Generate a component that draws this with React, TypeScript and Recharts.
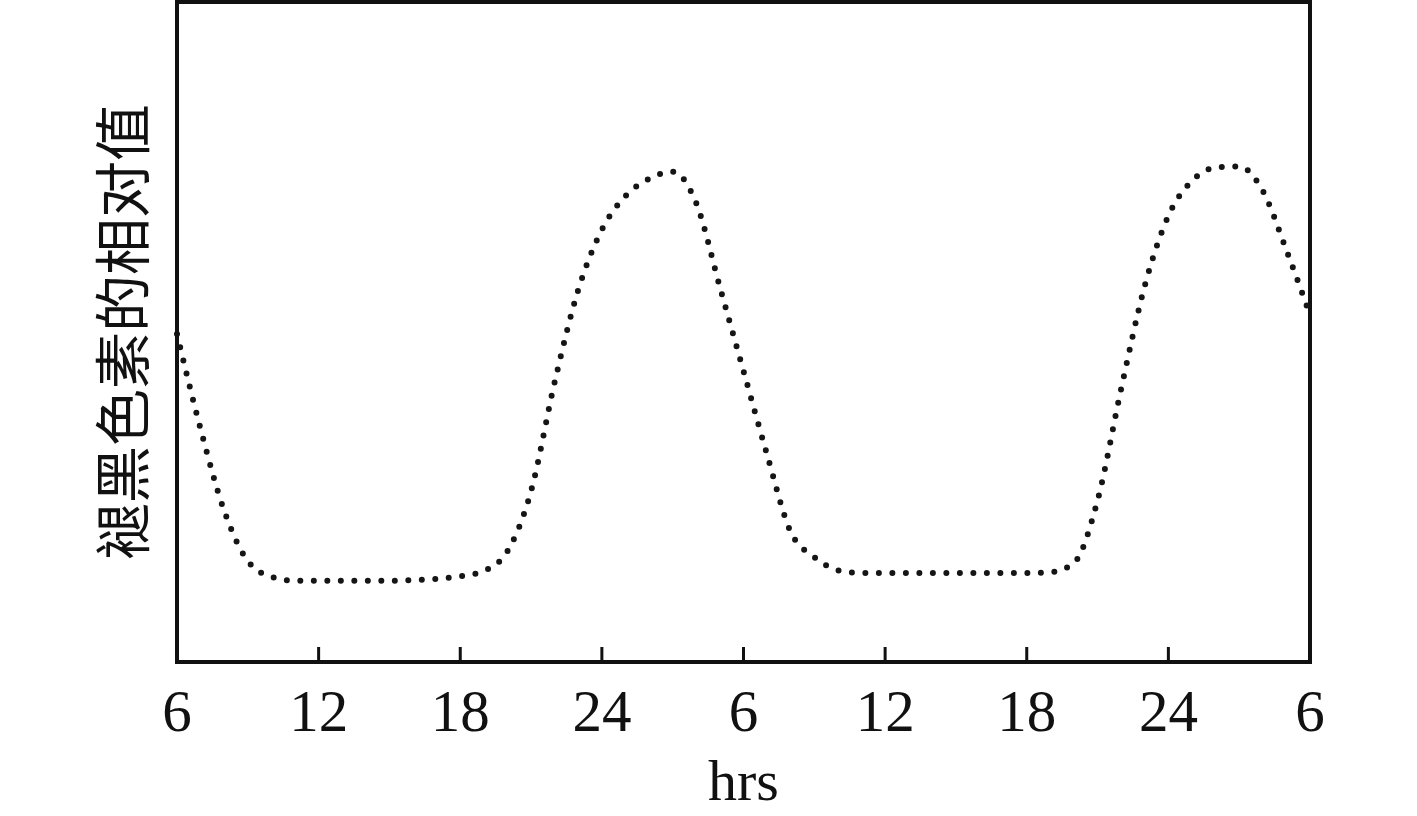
import { LineChart, Line, XAxis, YAxis, ReferenceArea } from 'recharts';

// hours since 06:00 on day one, one sample per hour
const hours = [
  0, 1, 2, 3, 4, 5, 6, 7, 8, 9, 10, 11, 12, 13, 14, 15, 16, 17, 18, 19, 20, 21, 22, 23, 24,
  25, 26, 27, 28, 29, 30, 31, 32, 33, 34, 35, 36, 37, 38, 39, 40, 41, 42, 43, 44, 45, 46, 47, 48,
];

// relative melatonin level (0-100 of the plot height)
const melatonin = [
  49.7, 35.3, 22.9, 15.3, 12.9, 12.3, 12.3, 12.3, 12.3, 12.3, 12.4, 12.6, 13.0, 13.8, 16.8, 25.9,
  42.4, 56.4, 65.5, 70.6, 73.2, 74.3, 69.5, 56.8, 44.1, 31.4, 19.7, 15.9, 13.9, 13.5, 13.5, 13.5,
  13.5, 13.5, 13.5, 13.5, 13.5, 13.6, 15.0, 24.5, 41.4, 57.0, 67.6, 72.9, 74.9, 75.1, 71.4, 62.4,
  52.6,
];

const tickHours = [0, 6, 12, 18, 24, 30, 36, 42, 48];
const tickLabels = ['6', '12', '18', '24', '6', '12', '18', '24', '6'];

const data = hours.map((h, i) => ({ h, v: melatonin[i] }));

const FONT = '"Liberation Serif", "Times New Roman", serif';

const HourTick = ({ x, y, payload }: any) => {
  const idx = tickHours.indexOf(payload.value);
  return (
    <g>
      <line x1={x} y1={y} x2={x} y2={y - 15} stroke="#111" strokeWidth={3} />
      <text x={x} y={y + 69} textAnchor="middle" fontFamily={FONT} fontSize={59} fill="#111">
        {tickLabels[idx]}
      </text>
    </g>
  );
};

const App = () => {
  return (
    <div style={{ position: 'absolute', left: 0, top: 0, width: 1417, height: 816, background: '#fff' }}>
      <LineChart width={1417} height={816} data={data} margin={{ top: 2, right: 107, left: 176, bottom: 94 }}>
        <XAxis
          dataKey="h"
          type="number"
          domain={[0, 48]}
          ticks={tickHours}
          interval={0}
          height={60}
          tickSize={0}
          tickMargin={0}
          tickLine={false}
          axisLine={{ stroke: '#111', strokeWidth: 4 }}
          tick={<HourTick />}
          label={{
            value: 'hrs',
            position: 'insideBottom',
            offset: -78,
            fontFamily: FONT,
            fontSize: 58,
            fill: '#111',
          }}
        />
        <YAxis
          domain={[0, 100]}
          width={1}
          tick={false}
          tickLine={false}
          axisLine={{ stroke: '#111', strokeWidth: 4 }}
          label={{
            value: '褪黑色素的相对值',
            angle: -90,
            position: 'insideLeft',
            offset: -52,
            fontFamily: '"Noto Sans CJK SC", sans-serif',
            fontSize: 57,
            fill: '#111',
            style: { textAnchor: 'middle' },
          }}
        />
        <ReferenceArea
          x1={0}
          x2={48}
          y1={0}
          y2={100}
          fill="none"
          fillOpacity={0}
          stroke="#111"
          strokeWidth={4}
          ifOverflow="visible"
        />
        <Line
          type="monotone"
          dataKey="v"
          stroke="#151515"
          strokeWidth={6}
          strokeLinecap="round"
          strokeDasharray="0 13.5"
          dot={false}
          activeDot={false}
          isAnimationActive={false}
        />
      </LineChart>
    </div>
  );
};

export default App;
